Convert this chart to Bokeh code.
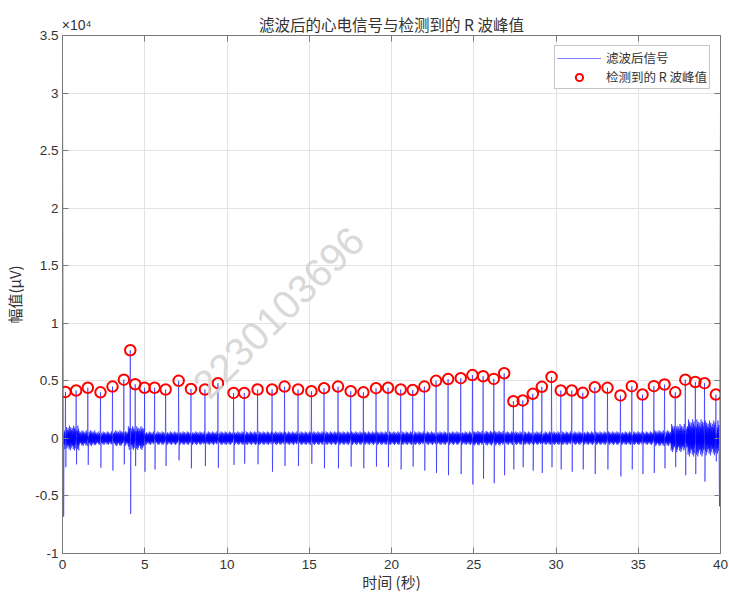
import numpy as np
from bokeh.plotting import figure
from bokeh.models import Range1d, LinearAxis, FixedTicker, Label, Legend, LegendItem
from bokeh.embed import file_html
from bokeh.resources import INLINE

# ---- data -------------------------------------------------------------
# detected R peaks: time (s) and amplitude (uV)
peak_time = [0.18, 0.83, 1.54, 2.31, 3.04, 3.73, 4.12, 4.42, 4.99, 5.60, 6.27, 7.06, 7.81, 8.66, 9.45,
             10.40, 11.05, 11.86, 12.74, 13.50, 14.32, 15.13, 15.90, 16.75, 17.52, 18.29, 19.06,
             19.79, 20.56, 21.29, 22.00, 22.71, 23.44, 24.21, 24.92, 25.57, 26.22, 26.85, 27.41,
             27.98, 28.59, 29.14, 29.73, 30.29, 30.96, 31.63, 32.36, 33.13, 33.92, 34.61, 35.26,
             35.95, 36.60, 37.25, 37.86, 38.47, 39.03, 39.72]
peak_uv = [4040, 4160, 4400, 4000, 4500, 5100, 7660, 4700, 4400, 4400, 4250, 5000, 4300, 4250, 4800,
           3950, 3950, 4250, 4250, 4500, 4250, 4100, 4360, 4500, 4100, 4000, 4360,
           4400, 4250, 4200, 4500, 5000, 5150, 5230, 5500, 5400, 5170, 5660, 3230,
           3300, 3870, 4480, 5340, 4160, 4160, 3960, 4450, 4390, 3730, 4540, 3810,
           4540, 4680, 4000, 5100, 4900, 4800, 3810]
# S-wave minimum following each R peak (uV)
s_uv = [-2500, -2260, -2300, -2550, -2800, -2260, -6560, -2400, -2900, -2700, -2400, -1900, -2600, -2400, -2550,
        -2300, -2200, -2250, -2900, -2400, -2400, -2200, -2600, -2600, -2450, -2600, -2450,
        -2500, -2700, -2450, -2800, -3000, -3200, -3100, -4000, -3500, -3900, -3200, -2700,
        -2500, -2800, -3000, -2500, -2700, -2900, -2700, -3100, -2700, -3300, -2700, -3100,
        -3000, -2600, -2500, -3200, -3100, -3750, -2000]
# filter start-up / end transients (s, uV)
transient_t = [0.0, 0.07, 39.94, 40.0]
transient_uv = [31800, -6800, -5900, 29300]
# baseline noise amplitude for each second of the record (uV)
noise_env = [1100, 700, 600, 700, 1050, 600, 600, 600, 600, 600,
             600, 600, 600, 600, 600, 600, 600, 600, 600, 600,
             600, 600, 600, 600, 600, 650, 650, 600, 600, 600,
             600, 600, 600, 600, 600, 600, 700, 1250, 1650, 1550]

x_ticks = [0, 5, 10, 15, 20, 25, 30, 35, 40]
y_ticks = [-10000, -5000, 0, 5000, 10000, 15000, 20000, 25000, 30000, 35000]
y_tick_labels = ["-1", "-0.5", "0", "0.5", "1", "1.5", "2", "2.5", "3", "3.5"]
exponent_text = "×10⁴"
exponent_at = 0.86
title_text = "滤波后的心电信号与检测到的 R 波峰值"

# ---- trace assembly ---------------------------------------------------
# fixed jitter shape used to draw the baseline noise band
texture = [0.30, -0.45, 0.62, -0.20, 0.48, -0.85, 0.15, -0.55, 1.00, -0.35, 0.55, -0.70,
           0.25, -0.30, 0.75, -0.95, 0.40, -0.15, 0.88, -0.50, 0.20, -0.78, 0.52, -0.28,
           0.66, -0.40, 0.10, -0.62, 0.35, -0.25, 0.82, -0.58]
dt = 0.008
pts = list(zip(transient_t, transient_uv))
peaks_arr = np.array(peak_time)
for i, t in enumerate(np.arange(0.10, 39.90, dt)):
    d = t - peaks_arr
    if np.any((d > -0.021) & (d < 0.046)):
        continue
    pts.append((t, noise_env[int(t)] * texture[i % len(texture)]))
for tp, pv, sv in zip(peak_time, peak_uv, s_uv):
    pts += [(tp - 0.02, 0.0), (tp, pv), (tp + 0.025, sv), (tp + 0.045, 0.0)]
pts.sort()
sig_t = [a for a, _ in pts]
sig_uv = [b for _, b in pts]

# ---- figure -----------------------------------------------------------
CJK = "Noto Sans CJK SC"
LAT = "Liberation Sans"
TXT = "#333333"
FRAME = "#7a7a7a"
GRID = "#e3e3e3"

p = figure(width=729, height=594, output_backend="svg", toolbar_location=None,
           x_range=Range1d(0, 40), y_range=Range1d(-10000, 35000),
           min_border_left=62, min_border_right=9, min_border_top=35, min_border_bottom=40)
p.background_fill_color = "white"
p.border_fill_color = "white"
p.outline_line_color = FRAME
p.outline_line_width = 1


def style_axis(ax, ticks, labels=True):
    ax.ticker = FixedTicker(ticks=ticks)
    ax.major_tick_in = 6
    ax.major_tick_out = 0
    ax.minor_tick_in = 0
    ax.minor_tick_out = 0
    ax.axis_line_color = FRAME
    ax.major_tick_line_color = FRAME
    ax.minor_tick_line_color = FRAME
    ax.major_label_text_font = LAT
    ax.major_label_text_color = TXT
    ax.major_label_standoff = 4
    ax.major_label_text_font_size = "13.5px" if labels else "0px"
    ax.axis_label_text_font = CJK
    ax.axis_label_text_font_style = "normal"
    ax.axis_label_text_color = TXT
    ax.axis_label_text_font_size = "15px"


xa = p.xaxis[0]
style_axis(xa, x_ticks)
xa.major_label_standoff = 6
xa.axis_label = "时间 (秒)"
xa.axis_label_standoff = -1

ya = p.yaxis[0]
style_axis(ya, y_ticks)
ya.major_label_overrides = {k: v for k, v in zip(y_ticks, y_tick_labels)}
ya.axis_label = "幅值(μV)"
ya.axis_label_standoff = 7

# top edge: inward ticks at the x grid, the y-scale exponent and the chart title
top = LinearAxis()
style_axis(top, x_ticks)
top.ticker = FixedTicker(ticks=[exponent_at], minor_ticks=x_ticks)
top.major_tick_in = 0
top.minor_tick_in = 6
top.major_label_overrides = {exponent_at: exponent_text}
top.major_label_text_font_size = "14px"
top.major_label_standoff = 3
top.axis_label = title_text
top.axis_label_text_font_size = "15.5px"
top.axis_label_standoff = -21
p.add_layout(top, "above")

right = LinearAxis()
style_axis(right, y_ticks, labels=False)
p.add_layout(right, "right")

p.xgrid.ticker = FixedTicker(ticks=x_ticks)
p.ygrid.ticker = FixedTicker(ticks=y_ticks)
for g in (p.xgrid[0], p.ygrid[0]):
    g.grid_line_color = GRID
    g.grid_line_width = 1

sig = p.line(sig_t, sig_uv, line_color="#0000ff", line_width=0.5)
pk = p.scatter(peak_time, peak_uv, marker="circle", size=10.5, fill_color=None,
               line_color="#ff0000", line_width=2)

legend = Legend(items=[LegendItem(label="滤波后信号", renderers=[sig]),
                       LegendItem(label="检测到的 R 波峰值", renderers=[pk])],
                location="top_right", margin=10, padding=2, spacing=-3,
                glyph_width=44, glyph_height=18, label_height=18, label_standoff=5,
                label_text_font=CJK, label_text_font_size="12.5px", label_text_color=TXT,
                border_line_color="#8c8c8c", border_line_width=1,
                background_fill_color="white", background_fill_alpha=1)
p.add_layout(legend)

# watermark
p.add_layout(Label(x=13.12, y=10950, text="2230103696", angle=45, angle_units="deg",
                   text_font=LAT, text_font_size="40px", text_color="#d4d4d4", text_alpha=0.9,
                   text_align="center", text_baseline="middle"))

open("out.html", "w").write(file_html(p, INLINE))
